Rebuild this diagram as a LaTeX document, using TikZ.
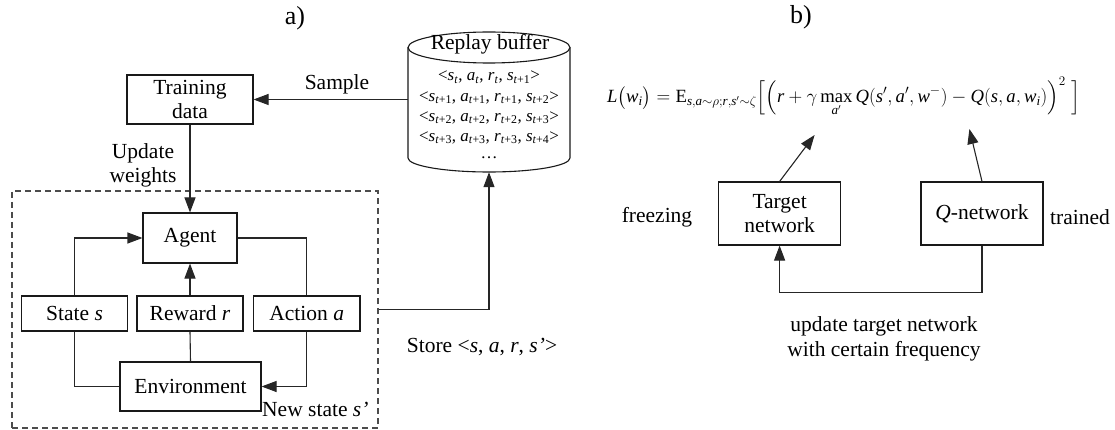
\documentclass[tikz,border=0pt]{standalone}
\usepackage{amsmath}
\usepackage{fontspec}
\setmainfont{Liberation Serif}
\usepackage{graphicx}
\usetikzlibrary{arrows.meta,positioning}
\newcommand{\mi}[1]{\mathit{#1}}
\newcommand{\tsub}[1]{\textsubscript{#1}}
\newcommand{\mainsz}{\fontsize{21.5}{24}\selectfont}
\newcommand{\smallsz}{\fontsize{17}{19}\selectfont}
\newcommand{\titlesz}{\fontsize{26}{28}\selectfont}
\tikzset{
  ln/.style={draw=black!85, line width=1.1pt},
  arr/.style={ln, -{Triangle[length=15pt,width=11pt]}},
  box/.style={draw=black!90, line width=1.1pt, inner sep=0pt, align=center, font=\mainsz},
  lbl/.style={inner sep=0pt, align=center, font=\mainsz},
  dbox/.style={draw=black!70, line width=1.1pt, dash pattern=on 6pt off 4pt},
}
\begin{document}
\begin{tikzpicture}[x=1pt,y=1pt]
\useasboundingbox (0,0) rectangle (1115,-430);
% ---------- panel a ----------
\node[lbl, font=\titlesz] (ta) at (295,-18) {a)};
\node[box, minimum width=126, minimum height=49] (tdata) at (190,-99.5) {Training\\data};
\node[box, minimum width=94, minimum height=50] (agent) at (190,-238) {Agent};
\node[box, minimum width=106, minimum height=35] (state) at (74.5,-313.5) {State \textit{s}};
\node[box, minimum width=106, minimum height=35] (reward) at (190,-313.5) {Reward \textit{r}};
\node[box, minimum width=106.5, minimum height=35] (action) at (306.7,-313.5) {Action \textit{a}};
\node[box, minimum width=141, minimum height=49] (env) at (190.5,-386.5) {Environment};
\node[dbox, minimum width=366, minimum height=237, inner sep=0pt] (frame) at (195,-309.5) {};
% cylinder
\node[minimum width=162, minimum height=140, inner sep=0pt] (buf) at (489,-102) {};
\draw[ln, draw=black!90] (489,-47.5) ellipse[x radius=81, y radius=15.5];
\draw[ln, draw=black!90] (408,-47.5) -- (408,-158) arc[start angle=180, end angle=360, x radius=81, y radius=14] -- (570,-47.5);
\node[lbl] (rb) at (490,-44) {Replay buffer};
\node[lbl, font=\smallsz] (t1) at (489,-77) {<\textit{s}\tsub{\textit{t}}, \textit{a}\tsub{\textit{t}}, \textit{r}\tsub{\textit{t}}, \textit{s}\tsub{\textit{t}+1}>};
\node[lbl, font=\smallsz] (t2) at (489,-97.5) {<\textit{s}\tsub{\textit{t}+1}, \textit{a}\tsub{\textit{t}+1}, \textit{r}\tsub{\textit{t}+1}, \textit{s}\tsub{\textit{t}+2}>};
\node[lbl, font=\smallsz] (t3) at (489,-117.5) {<\textit{s}\tsub{\textit{t}+2}, \textit{a}\tsub{\textit{t}+2}, \textit{r}\tsub{\textit{t}+2}, \textit{s}\tsub{\textit{t}+3}>};
\node[lbl, font=\smallsz] (t4) at (489,-137.5) {<\textit{s}\tsub{\textit{t}+3}, \textit{a}\tsub{\textit{t}+3}, \textit{r}\tsub{\textit{t}+3}, \textit{s}\tsub{\textit{t}+4}>};
\node[lbl, font=\smallsz] (t5) at (489,-158) {\dots};
% connectors
\draw[arr] (buf.west |- tdata.east) -- (tdata.east);
\node[lbl] (samp) at (337,-84) {Sample};
\draw[arr] (tdata.south) -- (agent.north);
\node[lbl] (upd) at (143,-165.5) {Update\\weights};
\draw[arr] (state.north) |- (agent.west);
\draw[ln] (agent.east) -| (action.north);
\draw[arr] (reward.north) -- (agent.south);
\draw[ln] (reward.south) -- (env.north);
\draw[arr] (action.south) |- (env.east);
\draw[ln] (state.south) |- (env.west);
\node[lbl, anchor=base west] (nss) at (262,-416) {New state \textit{s'}};
\draw[arr] (frame.east) -| (buf.south);
\node[lbl] (store) at (482,-347) {Store <\textit{s}, \textit{a}, \textit{r}, \textit{s'}>};
% ---------- panel b ----------
\node[lbl, font=\titlesz] (tb) at (801,-17) {b)};
\node[lbl] (formula) at (843.5,-97) {\resizebox{473pt}{!}{\fontsize{17}{19}\selectfont$\displaystyle \mi{L}\bigl(\mi{w}_{\mi{i}}\bigr) = \mathrm{E}_{\mi{s},\mi{a}\sim\rho;\mi{r},\mi{s}'\sim\zeta}\Bigl[\Bigl(\mi{r}+\gamma\max_{\mi{a}'}\mi{Q}(\mi{s}',\mi{a}',\mi{w}^{-})-\mi{Q}(\mi{s},\mi{a},\mi{w}_{\mi{i}})\Bigr)^{2}\;\Bigr]$}};
\node[box, minimum width=121.6, minimum height=63] (tnet) at (779.6,-213.5) {Target\\network};
\node[box, minimum width=122, minimum height=63] (qnet) at (982,-213.5) {\textit{Q}-network};
\node[lbl] (frz) at (657,-217) {freezing};
\node[lbl] (trn) at (1080,-217) {trained};
\coordinate (tA) at (814.6,-135);
\coordinate (qA) at (969.4,-129);
\draw[arr] (tnet.north) -- (tA);
\draw[arr] (qnet.north) -- (qA);
\draw[arr] (qnet.south) -- ++(0,-46.7) -| (tnet.south);
\node[lbl, font=\fontsize{21.5}{25}\selectfont] (updl) at (884,-339) {update target network\\with certain frequency};
\end{tikzpicture}
\end{document}
